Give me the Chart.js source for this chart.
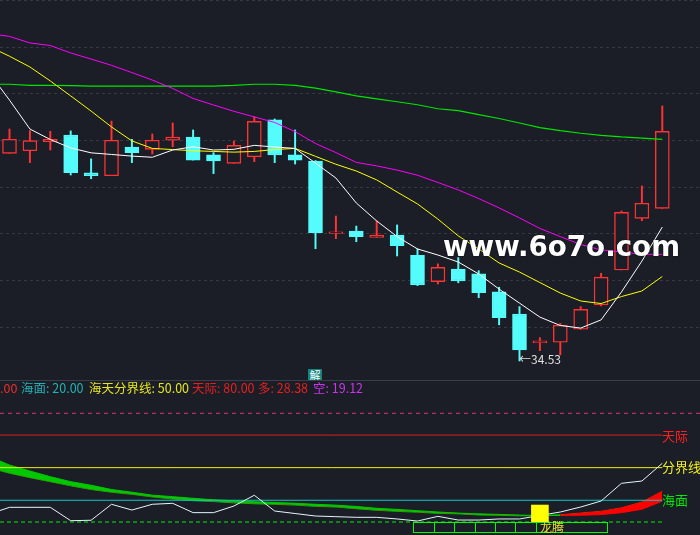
<!DOCTYPE html>
<html>
<head>
<meta charset="utf-8">
<title>K线</title>
<script src="https://cdn.jsdelivr.net/npm/chart.js@4.4.1/dist/chart.umd.min.js"></script>
<style>
  body { margin: 0; width: 700px; height: 535px; overflow: hidden; position: relative;
         background: #1b1e26; font-family: "Noto Sans CJK SC", sans-serif; }
  canvas { position: absolute; left: 0; }
  #main { top: 0; }
  #sub { top: 381px; }
  #sep { position: absolute; left: 0; top: 380px; width: 700px; height: 1px; background: #3a3e4a; }
  .t { position: absolute; white-space: nowrap; font-size: 12.5px; line-height: 14px; }
  .lvl { position: absolute; white-space: nowrap; font-size: 13px; line-height: 15px; left: 662px; }
  #jie { position: absolute; left: 308px; top: 369px; width: 14px; height: 11px; overflow: hidden;
         background: #128580; color: #fff; font-size: 11px; line-height: 12px; text-align: center; }
  #wm { position: absolute; left: 443px; top: 232px; font: bold 29px "DejaVu Sans", sans-serif;
        line-height: 29px; color: #fff; white-space: nowrap; transform-origin: left center;
        text-shadow: 0 0 2px rgba(0,0,0,.7); }
</style>
</head>
<body>
<canvas id="main" width="700" height="380"></canvas>
<div id="sep"></div>
<canvas id="sub" width="700" height="154"></canvas>
<div id="jie">解</div>
<div id="wm">www.6o7o.com</div>

<script>
// candles (33 bars)
const opens  = [43.43, 43.54, 43.93, 44.21, 42.59, 42.47, 43.70, 43.60, 43.99, 44.13, 43.36, 43.00, 43.28, 44.86, 43.36, 43.10, 40.00,
                40.10, 39.83, 39.93, 39.06, 37.93, 38.47, 38.26, 37.49, 36.54, 35.31, 35.33, 35.89, 36.93, 38.43, 40.64, 41.07];
const highs  = [44.47, 44.40, 44.37, 44.39, 43.19, 44.81, 44.03, 44.26, 44.73, 44.43, 43.46, 43.96, 45.00, 44.90, 44.43, 43.12, 40.74,
                40.31, 40.54, 40.36, 39.33, 38.69, 38.96, 38.40, 37.69, 36.86, 35.53, 36.14, 36.86, 38.29, 40.96, 42.03, 45.46];
const lows   = [43.43, 43.03, 43.57, 42.50, 42.34, 42.47, 43.03, 43.40, 43.71, 43.14, 42.56, 43.00, 43.07, 43.03, 42.97, 39.34, 39.77,
                39.64, 39.83, 39.03, 37.76, 37.83, 37.88, 37.24, 36.08, 34.53, 34.97, 34.79, 35.89, 36.89, 38.43, 40.54, 41.07];
const closes = [44.03, 43.97, 44.03, 42.60, 42.47, 43.99, 43.46, 43.99, 44.12, 43.14, 43.10, 43.77, 44.80, 43.36, 43.14, 40.03, 40.06,
                39.86, 39.92, 39.47, 37.79, 38.54, 37.96, 37.46, 36.38, 35.00, 35.39, 36.06, 36.74, 38.12, 40.90, 41.29, 44.37];

// moving averages: first value belongs to the bar just left of the screen
const ma5  = [46.88, 45.71, 44.47, 44.02, 43.66, 43.45, 43.38, 43.31, 43.26, 43.57, 43.71, 43.57, 43.60, 43.77, 43.70, 43.64, 43.01,
              42.37, 41.30, 40.53, 39.86, 39.33, 39.07, 38.77, 38.26, 37.61, 37.01, 36.41, 36.05, 35.94, 36.29, 37.49, 38.81, 40.27];
const ma10 = [48.01, 47.59, 47.13, 46.53, 45.89, 45.24, 44.56, 43.96, 43.64, 43.59, 43.54, 43.51, 43.48, 43.51, 43.59, 43.64, 43.30,
              42.96, 42.67, 42.29, 41.77, 41.26, 40.61, 39.89, 39.33, 38.73, 38.34, 37.89, 37.44, 37.10, 36.99, 37.29, 37.53, 38.15];
const ma20 = [48.56, 48.44, 48.16, 48.05, 47.73, 47.47, 47.20, 46.89, 46.57, 46.21, 45.78, 45.50, 45.23, 44.99, 44.75, 44.36, 43.85,
              43.46, 43.04, 42.89, 42.71, 42.49, 42.18, 41.86, 41.49, 41.09, 40.66, 40.21, 39.86, 39.52, 39.29, 39.20, 39.10, 39.10];
const ma60 = [46.39, 46.39, 46.34, 46.34, 46.33, 46.31, 46.31, 46.31, 46.31, 46.31, 46.31, 46.31, 46.34, 46.39, 46.39, 46.34, 46.22,
              46.06, 45.89, 45.76, 45.64, 45.51, 45.34, 45.26, 45.09, 44.92, 44.73, 44.53, 44.40, 44.29, 44.20, 44.13, 44.08, 44.03];
const priceGrid = [50, 48, 46, 44, 42, 40, 38, 36];

// lower panel (same layout: first value is the off-screen bar)
const osc  = [7.2, 13.5, 13.5, 13.5, 1.2, 1.6, 16.3, 11.0, 16.3, 17.2, 8.6, 8.6, 14.7, 24.6, 10.1, 7.8, 5.5,
              4.9, 4.3, 4.3, 2.8, 0.9, 5.2, 1.8, 1.8, 2.8, 2.8, 6.0, 9.2, 13.8, 19.3, 35.6, 37.7, 54.0];
const kong = [60.3, 52.4, 46.9, 41.7, 37.1, 33.8, 29.9, 27.4, 24.7, 23.3, 21.8, 20.4, 19.6, 18.6, 17.9, 17.2, 16.3,
              15.5, 14.3, 12.6, 11.6, 10.4, 9.2, 8.2, 7.5, 7.0, 6.4, 5.9, 6.0, 6.2, 6.8, 8.6, 11.7, 19.12];
const duo  = [49.9, 44.9, 40.8, 37.1, 33.3, 29.9, 27.4, 25.5, 23.1, 21.2, 19.6, 18.8, 17.6, 16.8, 16.3, 15.6, 14.4,
              13.8, 12.2, 10.8, 9.8, 9.0, 8.0, 7.5, 6.5, 6.1, 5.7, 5.8, 6.7, 8.3, 9.9, 13.1, 18.4, 28.38];
const levelNames  = ['天际', '分界线', '海面'];
const levelValues = [80, 50, 20];
const ceilingLevel = 100;
const floorLevel = 0;
const signalIndex = 26;
const signalRange = [0, 15.6];
const cellStart = [19.8, 20.8, 21.8, 22.8, 23.8, 24.8, 25.8];
const cellEnd   = [20.8, 21.8, 22.8, 23.8, 24.8, 25.8, 29.27];
const cellRange = [0, -9.4];

const BG = '#1b1e26', RED = '#ff3333', CYAN = '#54fcfc';
const xMin = -0.4657, xMax = 33.848;

const pts = arr => arr.map((v, i) => ({ x: i - 1, y: v }));
const up = closes.map((c, i) => c >= opens[i]);
const bars = opens.map((o, i) => i);

function maLine(label, arr, color, width) {
    return { type: 'line', label: label, data: pts(arr), borderColor: color, borderWidth: width || 1,
             pointRadius: 0, order: 0 };
}

const gridPlugin = {
    id: 'priceGrid',
    beforeDatasetsDraw(chart, args, opts) {
        if (!opts.values) return;
        const { ctx, chartArea, scales: { y } } = chart;
        ctx.save();
        ctx.strokeStyle = '#343843';
        ctx.lineWidth = 1;
        ctx.setLineDash([3, 3]);
        opts.values.forEach(v => {
            const py = Math.round(y.getPixelForValue(v)) + 0.5;
            ctx.beginPath();
            ctx.moveTo(chartArea.left, py);
            ctx.lineTo(chartArea.right, py);
            ctx.stroke();
        });
        ctx.restore();
    }
};

const cellPlugin = {
    id: 'cells',
    afterDatasetsDraw(chart, args, opts) {
        if (!opts.start) return;
        const { ctx, scales: { x, y } } = chart;
        ctx.save();
        ctx.strokeStyle = '#00ff00';
        ctx.lineWidth = 1;
        const y1 = Math.round(y.getPixelForValue(opts.range[0])) + 0.5;
        const y2 = Math.round(y.getPixelForValue(opts.range[1])) + 0.5;
        opts.start.forEach((s, i) => {
            const x1 = Math.round(x.getPixelForValue(s)) + 0.5;
            const x2 = Math.round(x.getPixelForValue(opts.end[i])) + 0.5;
            ctx.strokeRect(x1, y1, x2 - x1, y2 - y1);
        });
        ctx.restore();
    }
};

const baseOptions = (yMin, yMax, plugins) => ({
    responsive: false,
    animation: false,
    events: [],
    layout: { padding: 0 },
    plugins: Object.assign({ legend: { display: false }, tooltip: { enabled: false } }, plugins),
    scales: {
        x: { type: 'linear', min: xMin, max: xMax, offset: false, display: false },
        y: { type: 'linear', min: yMin, max: yMax, display: false }
    }
});

// main price panel
new Chart(document.getElementById('main'), {
    type: 'bar',
    data: {
        datasets: [
            maLine('MA5', ma5, '#ffffff'),
            maLine('MA10', ma10, '#ffff00'),
            maLine('MA20', ma20, '#ff00ff'),
            maLine('MA60', ma60, '#00e600', 1.2),
            {
                type: 'bar', label: 'body',
                data: bars.map(i => ({ x: i, y: [opens[i], closes[i]] })),
                backgroundColor: up.map(u => u ? BG : CYAN),
                borderColor: up.map(u => u ? RED : CYAN),
                borderWidth: 1.4, borderSkipped: false, barThickness: 14, grouped: false, order: 1
            },
            {
                type: 'bar', label: 'wick',
                data: bars.map(i => ({ x: i, y: [lows[i], highs[i]] })),
                backgroundColor: up.map(u => u ? RED : CYAN),
                borderWidth: 0, barThickness: 1.3, grouped: false, order: 2
            }
        ]
    },
    options: baseOptions(33.714, 50, { priceGrid: { values: priceGrid } }),
    plugins: [gridPlugin]
});

// lower indicator panel
const GREEN_FILL = '#00c800', RED_FILL = '#ff0000';
const ribbonColor = c => kong[c.p0DataIndex] >= duo[c.p0DataIndex] ? GREEN_FILL : RED_FILL;
const levelColors = ['#dc1e1e', '#f0f000', '#10c8c8'];
const lastBar = opens.length - 1;

const subSets = [
    { type: 'bar', label: 'signal', data: [{ x: signalIndex, y: signalRange }], backgroundColor: '#ffff00',
      barThickness: 17, grouped: false, order: 0 },
    { type: 'line', label: 'osc', data: pts(osc), borderColor: '#e4f6ff', borderWidth: 1, pointRadius: 0, order: 1 },
    { type: 'line', label: '空', data: pts(kong), borderWidth: 1, pointRadius: 0, order: 3,
      segment: { borderColor: ribbonColor }, fill: { target: '+1', above: GREEN_FILL, below: RED_FILL } },
    { type: 'line', label: '多', data: pts(duo), borderWidth: 1, pointRadius: 0, order: 3,
      segment: { borderColor: ribbonColor } },
    { type: 'line', label: 'ceiling', data: [{ x: xMin, y: ceilingLevel }, { x: xMax, y: ceilingLevel }],
      borderColor: '#dc3278', borderWidth: 1, borderDash: [4, 4], pointRadius: 0, order: 2 },
    { type: 'line', label: 'floor', data: [{ x: xMin, y: floorLevel }, { x: lastBar, y: floorLevel }],
      borderColor: '#00ee00', borderWidth: 1.2, borderDash: [4, 3], pointRadius: 0, order: 2 }
];
levelValues.forEach((v, i) => {
    subSets.push({ type: 'line', label: levelNames[i], data: [{ x: xMin, y: v }, { x: lastBar, y: v }],
                   borderColor: levelColors[i], borderWidth: 1, pointRadius: 0, order: 2 });
});

new Chart(document.getElementById('sub'), {
    type: 'bar',
    data: { datasets: subSets },
    options: baseOptions(-11.96, 129.72, { cells: { start: cellStart, end: cellEnd, range: cellRange } }),
    plugins: [cellPlugin]
});

// texts
function addText(cls, txt, left, top, color, size) {
    const d = document.createElement('div');
    d.className = cls;
    d.textContent = txt;
    d.style.left = left + 'px';
    d.style.top = top + 'px';
    d.style.color = color;
    if (size) d.style.fontSize = size + 'px';
    document.body.appendChild(d);
    return d;
}

const fmt = v => v.toFixed(2);
addText('t', '.00', 0, 381, '#e8302c');
addText('t', '海面: ' + fmt(levelValues[2]), 21, 381, '#22b4b4');
addText('t', '海天分界线: ' + fmt(levelValues[1]), 89, 381, '#e6e61e');
addText('t', '天际: ' + fmt(levelValues[0]), 192, 381, '#e62020');
addText('t', '多: ' + fmt(duo[duo.length - 1]), 258, 381, '#e62020');
addText('t', '空: ' + fmt(kong[kong.length - 1]), 313, 381, '#cc33ee');

addText('lvl', levelNames[0], 662, 428, '#ff2020');
addText('lvl', levelNames[1], 662, 459, '#f0f020');
addText('lvl', levelNames[2], 662, 492, '#00e800');
addText('t', '龙腾', 540, 520, '#e8e030', 12);
addText('t', '←' + fmt(Math.min(...lows)), 519, 352, '#e0e0e0', 12);

const wm = document.getElementById('wm');
wm.style.transform = 'scaleX(' + (237 / wm.getBoundingClientRect().width) + ')';
</script>
</body>
</html>
